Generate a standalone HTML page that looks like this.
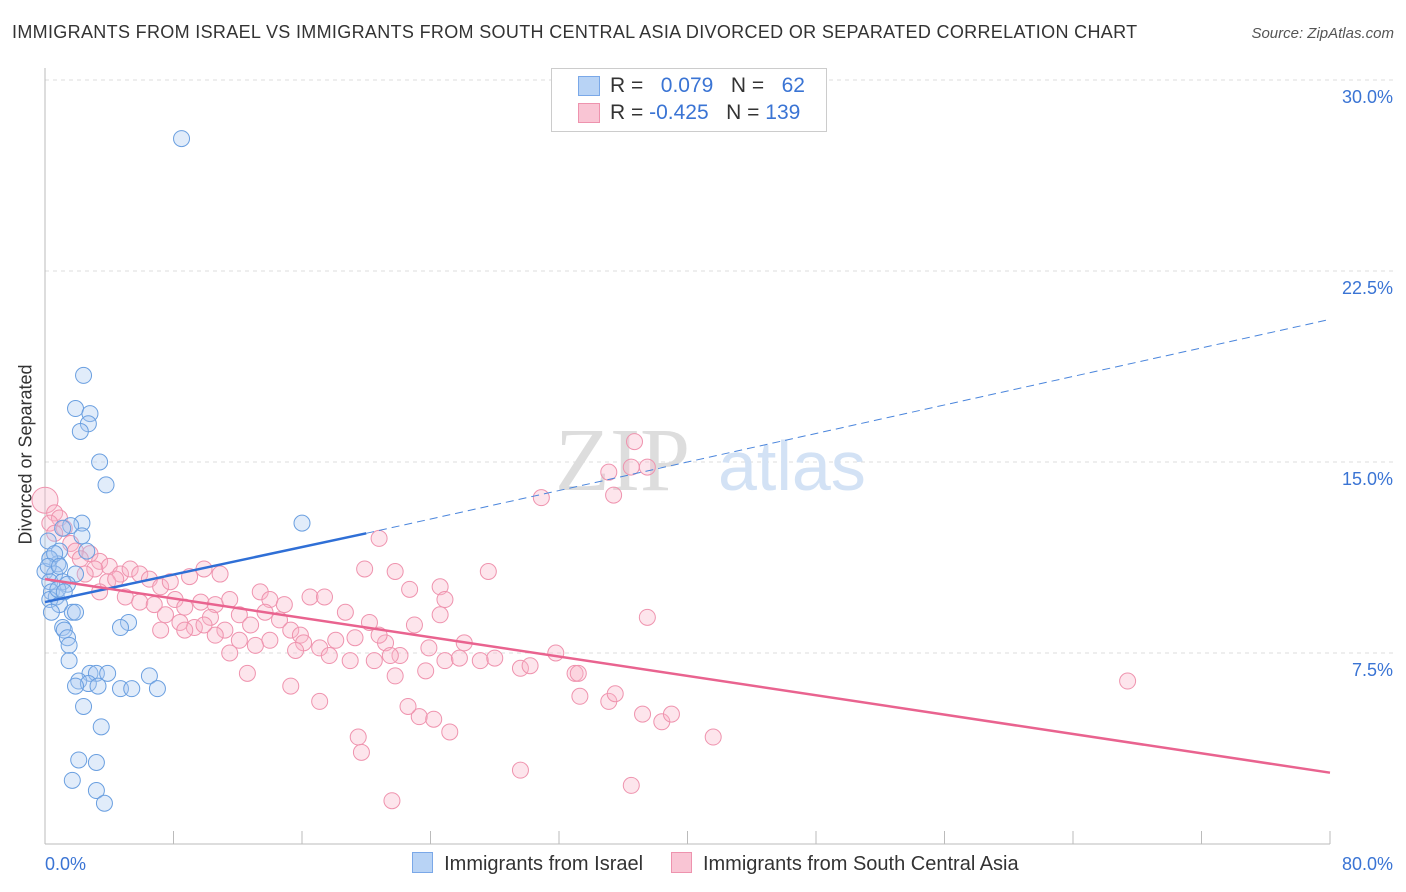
<!DOCTYPE html>
<html><head><meta charset="utf-8"><style>
body{margin:0;background:#fff;font-family:"Liberation Sans",sans-serif;}
#c{position:relative;width:1406px;height:892px;overflow:hidden}
.t{position:absolute;white-space:nowrap}
</style></head><body><div id="c">
<div class="t" style="left:12px;top:22px;font-size:18px;letter-spacing:0.33px;color:#333">IMMIGRANTS FROM ISRAEL VS IMMIGRANTS FROM SOUTH CENTRAL ASIA DIVORCED OR SEPARATED CORRELATION CHART</div>
<div class="t" style="right:12px;top:25px;font-size:15px;font-style:italic;color:#555">Source: ZipAtlas.com</div>
<div class="t" style="left:-64px;top:444px;font-size:18px;color:#333;transform:rotate(-90deg)">Divorced or Separated</div>
<svg id="s" width="1406" height="892" style="position:absolute;left:0;top:0"></svg>
<div style="position:absolute;left:551px;top:68px;width:274px;height:62px;border:1px solid #ccc;background:#fff;font-size:21px;color:#333">
<div style="position:absolute;left:26px;top:7px;width:20px;height:18px;background:#b8d3f5;border:1px solid #7aa8e8"></div>
<div class="t" style="left:58px;top:5px">R = <span style="color:#3a74d4">&nbsp;&nbsp;0.079</span>&nbsp;&nbsp;&nbsp;N = <span style="color:#3a74d4">&nbsp;&nbsp;62</span></div>
<div style="position:absolute;left:26px;top:34px;width:20px;height:18px;background:#f9c5d4;border:1px solid #ee93ae"></div>
<div class="t" style="left:58px;top:32px">R = <span style="color:#3a74d4">-0.425</span>&nbsp;&nbsp;&nbsp;N = <span style="color:#3a74d4">139</span></div>
</div>
<div class="t" style="left:412px;top:852px;font-size:20px;color:#333">
<span style="display:inline-block;width:19px;height:19px;background:#b8d3f5;border:1px solid #7aa8e8;vertical-align:-3px"></span>&nbsp; Immigrants from Israel&nbsp;&nbsp;&nbsp;&nbsp;
<span style="display:inline-block;width:19px;height:19px;background:#f9c5d4;border:1px solid #ee93ae;vertical-align:-3px"></span>&nbsp; Immigrants from South Central Asia</div>
</div>
<script>
const yTicks=[7.5,15,22.5,30];
const blueX=[8.5,2.4,1.9,2.8,2.7,2.2,3.4,3.8,16.0,2.3,1.6,1.1,2.3,0.2,0.9,2.6,0.3,0.8,0,0.6,1.9,0.3,1.1,1.4,0.4,0.7,0.3,0.9,1.7,1.9,1.1,1.2,5.2,4.7,1.4,1.5,1.5,2.8,3.2,3.9,6.5,2.1,2.7,1.9,3.3,4.7,5.4,7.0,2.4,3.5,2.1,3.2,1.7,3.2,3.7,0.3,0.6,0.2,0.8,1.2,0.4,0.9];
const blueY=[27.7,18.4,17.1,16.9,16.5,16.2,15.0,14.1,12.6,12.6,12.5,12.4,12.1,11.9,11.5,11.5,11.2,11.0,10.7,10.6,10.6,10.3,10.3,10.2,9.9,9.7,9.6,9.4,9.1,9.1,8.5,8.4,8.7,8.5,8.1,7.8,7.2,6.7,6.7,6.7,6.6,6.4,6.3,6.2,6.2,6.1,6.1,6.1,5.4,4.6,3.3,3.2,2.5,2.1,1.6,11.2,11.4,10.9,10.0,9.9,9.1,10.9];
const pinkX=[0,0.6,0.9,0.3,1.2,0.6,1.6,20.8,1.9,2.8,2.2,3.4,4.0,3.1,2.5,4.7,5.3,5.9,3.9,4.4,6.5,7.2,7.8,9.0,9.9,10.9,3.4,5.0,5.9,6.8,8.1,8.7,9.7,10.6,11.5,13.4,14.0,14.9,16.5,17.4,18.7,19.9,21.8,22.7,24.6,24.9,24.6,27.6,7.5,8.4,9.3,10.3,11.2,12.1,12.8,13.7,14.6,15.3,15.9,17.1,18.1,19.3,20.2,21.2,22.1,23.0,23.9,24.9,26.1,27.1,28.0,29.6,30.2,31.8,33.0,33.3,35.1,35.5,37.2,38.4,39.0,41.6,33.2,37.5,36.7,35.1,36.5,37.5,35.4,30.9,67.4,12.6,15.3,17.1,19.5,19.7,21.6,23.3,24.2,25.2,22.6,29.6,36.5,20.8,14.0,12.1,7.2,8.7,11.5,16.1,19.0,20.5,21.8,23.7,25.8,21.5,17.7,15.6,13.1,10.6,9.9];
const pinkY=[13.5,13.0,12.8,12.6,12.4,12.2,11.8,12.0,11.5,11.4,11.2,11.1,10.9,10.8,10.6,10.6,10.8,10.6,10.3,10.4,10.4,10.1,10.3,10.5,10.8,10.6,9.9,9.7,9.5,9.4,9.6,9.3,9.5,9.4,9.6,9.9,9.6,9.4,9.7,9.7,9.1,10.8,10.7,10.0,10.1,9.6,9.0,10.7,9.0,8.7,8.5,8.9,8.4,9.0,8.6,9.1,8.8,8.4,8.2,7.7,8.0,8.1,8.7,7.9,7.4,8.6,7.7,7.2,7.9,7.2,7.3,6.9,7.0,7.5,6.7,5.8,5.6,5.9,5.1,4.8,5.1,4.2,6.7,8.9,15.8,14.6,14.8,14.8,13.7,13.6,6.4,6.7,6.2,5.6,4.2,3.6,1.7,5.0,4.9,4.4,5.4,2.9,2.3,8.2,8.0,8.0,8.4,8.4,7.5,7.9,7.2,7.2,6.6,6.8,7.3,7.4,7.4,7.6,7.8,8.2,8.6,8.2];
const blueFit=[[0,9.5],[20,12.2],[80,20.6]];
const pinkFit=[[0,10.4],[80,2.8]];
const X=v=>45+v/80*1285, Y=v=>844-v/7.5*191;
const s=document.getElementById('s'),NS='http://www.w3.org/2000/svg';
function el(t,a){const e=document.createElementNS(NS,t);for(const k in a)e.setAttribute(k,a[k]);s.appendChild(e);return e;}
for(const t of yTicks){
 const g=el('line',{x1:45,x2:1394,y1:Y(t),y2:Y(t),stroke:'#ddd','stroke-dasharray':'4,4'});
 
 
 const tx=el('text',{x:1393,y:Y(t)+23,'text-anchor':'end','font-size':18,fill:'#3a74d4','font-family':'Liberation Sans'});
 tx.textContent=t.toFixed(1)+'%';
 
 
}
const ax=el('line',{x1:45,x2:1330,y1:844,y2:844,stroke:'#bbb'});


const ay=el('line',{x1:45,x2:45,y1:68,y2:844,stroke:'#bbb'});


for(let i=0;i<=10;i++){const tk=el('line',{x1:X(i*8),x2:X(i*8),y1:831,y2:844,stroke:'#bbb'});
 
 }
[['0.0%',45,'start'],['80.0%',1393,'end']].forEach(d=>{const t=el('text',{x:d[1],y:870,'text-anchor':d[2],'font-size':18,fill:'#3a74d4','font-family':'Liberation Sans'});t.textContent=d[0];
 
 });
const w1=el('text',{x:555,y:490,'font-size':90,fill:'#ddd','font-family':'Liberation Serif'});w1.textContent='ZIP';


const w2=el('text',{x:718,y:490,'font-size':70,fill:'#d3e2f5','font-family':'Liberation Sans'});w2.textContent='atlas';


for(let i=0;i<pinkX.length;i++){const c=el('circle',{cx:X(pinkX[i]),cy:Y(pinkY[i]),r:i==0?13:8,fill:'rgba(248,180,200,0.35)',stroke:'#ef93ae','stroke-width':1});
 
 }
for(let i=0;i<blueX.length;i++){const c=el('circle',{cx:X(blueX[i]),cy:Y(blueY[i]),r:8,fill:'rgba(170,200,240,0.35)',stroke:'#6a9fe0','stroke-width':1});
 
 }
const b1=el('line',{x1:X(blueFit[0][0]),y1:Y(blueFit[0][1]),x2:X(blueFit[1][0]),y2:Y(blueFit[1][1]),stroke:'#2f6fd6','stroke-width':2.5});


const b2=el('line',{x1:X(blueFit[1][0]),y1:Y(blueFit[1][1]),x2:X(blueFit[2][0]),y2:Y(blueFit[2][1]),stroke:'#4a85dc','stroke-width':1,'stroke-dasharray':'8,5'});


const p1=el('line',{x1:X(pinkFit[0][0]),y1:Y(pinkFit[0][1]),x2:X(pinkFit[1][0]),y2:Y(pinkFit[1][1]),stroke:'#e9638f','stroke-width':2.5});


</script></body></html>
